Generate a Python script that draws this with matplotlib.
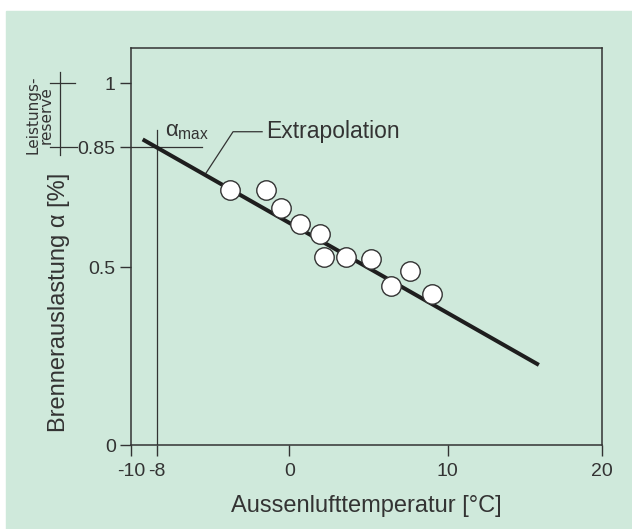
import numpy as np
import matplotlib
matplotlib.use('Agg')
import matplotlib.pyplot as plt
from matplotlib.patches import Rectangle
import matplotlib.transforms as mtransforms

plt.rcParams['font.family'] = ['Liberation Sans', 'DejaVu Sans']
plt.rcParams['mathtext.fontset'] = 'custom'
plt.rcParams['mathtext.rm'] = 'Liberation Sans'
plt.rcParams['mathtext.it'] = 'Liberation Sans'

# measured points: outdoor temperature [°C] vs. burner load
temp_c = [-3.6, -1.43, -0.48, 0.7, 1.95, 2.2, 3.6, 5.15, 7.65, 6.45, 9.0]
load = [0.726, 0.724, 0.671, 0.626, 0.596, 0.530, 0.530, 0.524, 0.489, 0.447, 0.424]

# regression line, extrapolated to the design temperature
fit_x = [-9.11, 15.9]
fit_y = [0.868, 0.225]

x_ticks = [-10, -8, 0, 10, 20]
y_ticks = [0, 0.5, 0.85, 1]
y_tick_labels = ['0', '0.5', '0.85', '1']

design_temp = -8
alpha_max = 0.85

# the original axes are drawn schematic, not strictly linear
x_nodes = [-30, -10, -8, 0, 10, 20, 40]
x_drawn = [-30, -10, -8.33, 0.08, 10.15, 20, 40]
y_nodes = [-1, 0, 0.5, 0.85, 1, 2]
y_drawn = [-1, 0, 0.4917, 0.8232, 1, 2]


def piecewise(nodes, drawn):
    return (lambda v: np.interp(v, nodes, drawn),
            lambda v: np.interp(v, drawn, nodes))


ink = '#333333'
fig = plt.figure(figsize=(6.32, 5.29), dpi=100)
fig.patches.append(Rectangle((6 / 632, 0), 1, 518 / 529, transform=fig.transFigure,
                             color='#cfe9db', zorder=-10))
ax = fig.add_axes([131 / 632, 84 / 529, 471.3 / 632, 397 / 529])
ax.patch.set_alpha(0)
ax.set_xscale('function', functions=piecewise(x_nodes, x_drawn))
ax.set_yscale('function', functions=piecewise(y_nodes, y_drawn))
ax.set_xlim(-10, 20)
ax.set_ylim(0, 1.097)

ax.plot(fit_x, fit_y, color='#1e1e1e', lw=2.9, solid_capstyle='butt', zorder=3)
ax.plot(temp_c, load, 'o', ms=14, mfc='white', mec=ink, mew=1.0, zorder=4)

# alpha_max marker
ax.plot([design_temp, design_temp], [0, 0.891], color=ink, lw=0.9)
ax.plot([-10, -5.31], [alpha_max, alpha_max], color=ink, lw=0.9)
ax.text(-7.55, 0.875, r'$\alpha_{\mathrm{max}}$', fontsize=16, color=ink, va='baseline')

# leader to the label
ax.plot([-5.05, -3.41, -1.65], [0.774, 0.886, 0.886], color=ink, lw=0.9)
ax.text(-1.38, 0.887, 'Extrapolation', fontsize=16.5, color=ink, va='center')

# power reserve bracket left of the axis
tr = mtransforms.blended_transform_factory(ax.transAxes, ax.transData)
ax.plot([-0.1506, -0.1506], [0.826, 1.03], color=ink, lw=0.9, transform=tr, clip_on=False)
ax.plot([-0.172, -0.118], [1, 1], color=ink, lw=0.9, transform=tr, clip_on=False)
ax.plot([-0.172, -0.114], [alpha_max, alpha_max], color=ink, lw=0.9, transform=tr,
        clip_on=False)
ax.text(-0.194, 0.925, 'Leistungs-\nreserve', rotation=90, fontsize=11, color=ink,
        family=['DejaVu Sans'], ha='center', va='center', linespacing=0.85,
        transform=tr)

ax.set_xticks(x_ticks)
ax.set_xticklabels([str(t) for t in x_ticks])
ax.set_yticks(y_ticks)
ax.set_yticklabels(y_tick_labels)
ax.xaxis.set_minor_locator(matplotlib.ticker.NullLocator())
ax.yaxis.set_minor_locator(matplotlib.ticker.NullLocator())
ax.tick_params(direction='out', length=8, width=1.0, color=ink, labelcolor=ink,
               labelsize=14, pad=3)
ax.tick_params(axis='x', pad=5)
for s in ax.spines.values():
    s.set_color(ink)
    s.set_linewidth(1.1)

ax.set_xlabel('Aussenlufttemperatur [°C]', fontsize=17, color=ink, labelpad=11)
ax.set_ylabel('Brennerauslastung α [%]', fontsize=17, color=ink)
ax.yaxis.set_label_coords(-0.129, 0.358)

fig.savefig('out.png', dpi=100)
